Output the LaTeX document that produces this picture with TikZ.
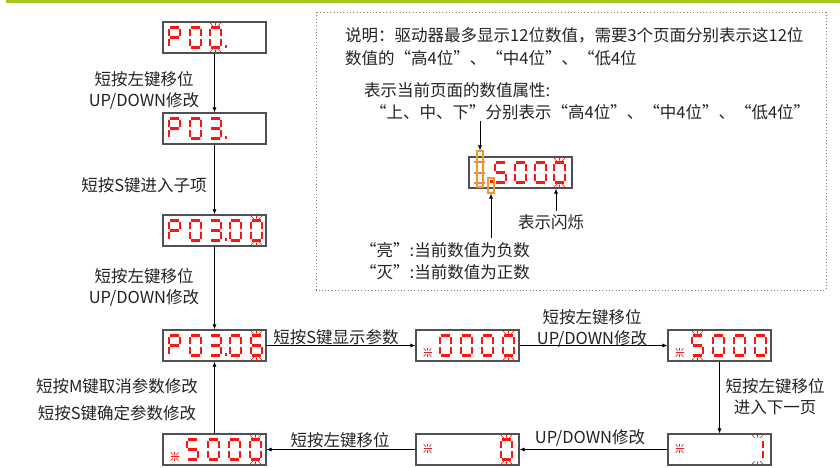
\documentclass[tikz,border=0pt]{standalone}
\usepackage{fontspec}
\setmainfont{Noto Sans CJK SC}
\usetikzlibrary{arrows.meta}
\definecolor{segc}{HTML}{FF1414}
\definecolor{grn}{HTML}{A5C81E}
\definecolor{txt}{HTML}{222222}
\definecolor{org}{HTML}{F39A1E}
\definecolor{pinkseg}{HTML}{F07A7A}
\definecolor{boxc}{HTML}{505050}
\tikzset{
  segl/.style={draw=segc, line width=2.5pt},
  ray/.style={draw=segc, line width=0.65pt},
  dbox/.style={draw=boxc, line width=1.1pt, minimum width=103pt, minimum height=31pt, inner sep=0pt, fill=white},
  lbl/.style={text=txt, font=\fontsize{16.5}{21}\selectfont, align=center, inner sep=0pt},
  arr/.style={draw=black, line width=0.7pt, -{Latex[length=5pt,width=4pt]}},
  obox/.style={draw=org, line width=1.1pt, inner sep=0pt},
}
\newcommand\sga{\draw[segl] (1.3,0)--(9.7,0);}
\newcommand\sgb{\draw[segl] (11,1.3)--(11,8.7);}
\newcommand\sgc{\draw[segl] (11,11.3)--(11,18.7);}
\newcommand\sgd{\draw[segl] (1.3,20)--(9.7,20);}
\newcommand\sge{\draw[segl] (0,11.3)--(0,18.7);}
\newcommand\sgf{\draw[segl] (0,1.3)--(0,8.7);}
\newcommand\sgg{\draw[segl] (1.3,10)--(9.7,10);}
\newcommand\dgt[2]{\begin{scope}[shift={(#1,5.5)}]\foreach \s in {#2}{\csname sg\s\endcsname}\end{scope}}
\newcommand\blk[1]{\begin{scope}[shift={(#1,5.5)}]
  \draw[ray] (5.5,-2)--(5.5,-5) (2.6,-1.8)--(0,-4.6) (8.4,-1.8)--(11,-4.6);
  \draw[ray] (5.5,22)--(5.5,25) (2.6,21.8)--(0,24.6) (8.4,21.8)--(11,24.6);
  \end{scope}}
\newcommand\sgn[2]{\begin{scope}[shift={(#1,#2)}]
  \draw[segc, line width=1.6pt] (-4,0)--(4,0);
  \draw[ray] (0,-1.8)--(0,-4.5) (-1.8,-1.8)--(-3.8,-4.2) (1.8,-1.8)--(3.8,-4.2);
  \draw[ray] (0,1.8)--(0,4.5) (-1.8,1.8)--(-3.8,4.2) (1.8,1.8)--(3.8,4.2);
  \end{scope}}
\newcommand\dpt[1]{\fill[segc] (#1,25.8) rectangle ++(2.8,-2.8);}
\begin{document}
\begin{tikzpicture}[x=1pt,y=-1pt]
\useasboundingbox (0,0) rectangle (840,467);
\draw[grn, line width=2.6pt] (6,1.3) -- (840,1.3);
\draw[gray, line width=0.9pt, dash pattern=on 0.9pt off 2.4pt] (316,12) rectangle (826,290);

% displays
\node[dbox] (d1) at (214.5,37.5) {};
\begin{scope}[shift={(163,22)}]
 \dgt{6}{a,b,f,g,e}\dgt{27}{a,b,c,d,e,f}\dgt{47}{a,b,c,d,e,f}\blk{47}\dpt{61.5}
\end{scope}
\node[dbox] (d2) at (214.5,128.5) {};
\begin{scope}[shift={(163,113)}]
 \dgt{6}{a,b,f,g,e}\dgt{27}{a,b,c,d,e,f}\dgt{47}{a,b,c,d,g}\dpt{61.5}
\end{scope}
\node[dbox] (d3) at (214.5,230.5) {};
\begin{scope}[shift={(163,215)}]
 \dgt{6}{a,b,f,g,e}\dgt{27}{a,b,c,d,e,f}\dgt{47}{a,b,c,d,g}\dpt{61.5}\dgt{67}{a,b,c,d,e,f}\dgt{88}{a,b,c,d,e,f}\blk{88}
\end{scope}
\node[dbox] (d4) at (214.5,345.5) {};
\begin{scope}[shift={(163,330)}]
 \dgt{6}{a,b,f,g,e}\dgt{27}{a,b,c,d,e,f}\dgt{47}{a,b,c,d,g}\dpt{61.5}\dgt{67}{a,b,c,d,e,f}\dgt{88}{a,f,g,e,c,d}\blk{88}
\end{scope}
\node[dbox] (d5) at (467.5,345.5) {};
\begin{scope}[shift={(416,330)}]
 \sgn{11.5}{22.5}\dgt{24}{a,b,c,d,e,f}\dgt{45}{a,b,c,d,e,f}\dgt{66}{a,b,c,d,e,f}\dgt{87}{a,b,c,d,e,f}\blk{87}
\end{scope}
\node[dbox] (d6) at (719.5,345.5) {};
\begin{scope}[shift={(668,330)}]
 \sgn{11.5}{22.5}\dgt{24}{a,f,g,c,d}\blk{24}\dgt{45}{a,b,c,d,e,f}\dgt{66}{a,b,c,d,e,f}\dgt{87}{a,b,c,d,e,f}
\end{scope}
\node[dbox] (d7) at (214.5,449.5) {};
\begin{scope}[shift={(163,434)}]
 \sgn{11.5}{22.5}\dgt{24}{a,f,g,c,d}\dgt{45}{a,b,c,d,e,f}\dgt{66}{a,b,c,d,e,f}\dgt{87}{a,b,c,d,e,f}\blk{87}
\end{scope}
\node[dbox] (d8) at (467.5,449.5) {};
\begin{scope}[shift={(416,434)}]
 \sgn{11.5}{14.5}\dgt{85}{a,b,c,d,e,f}\blk{85}
\end{scope}
\node[dbox] (d9) at (719.5,449.5) {};
\begin{scope}[shift={(668,434)}]
 \sgn{11.5}{14.5}\dgt{84}{b,c}\blk{84}
\end{scope}

% connectors between displays
\draw[arr] (d1.south) -- (d2.north);
\draw[arr] (d2.south) -- (d3.north);
\draw[arr] (d3.south) -- (d4.north);
\draw[arr] (d4.east) -- (d5.west);
\draw[arr] (d5.east) -- (d6.west);
\draw[arr] (d6.south) -- (d9.north);
\draw[arr] (d9.west) -- (d8.east);
\draw[arr] (d8.west) -- (d7.east);
\draw[arr] (d7.north) -- (d4.south);

% labels
\node[lbl] (l1) at (144,90) {短按左键移位\\UP/DOWN修改};
\node[lbl] (l2) at (144,185) {短按S键进入子项};
\node[lbl] (l3) at (144,287) {短按左键移位\\UP/DOWN修改};
\node[lbl] (l4) at (336,337) {短按S键显示参数};
\node[lbl] (l5) at (592,328) {短按左键移位\\UP/DOWN修改};
\node[lbl] (l6) at (775,397) {短按左键移位\\进入下一页};
\node[lbl] (l7) at (590,438) {UP/DOWN修改};
\node[lbl] (l8) at (340,440) {短按左键移位};
\node[lbl] (l9) at (117,386) {短按M键取消参数修改};
\node[lbl] (l10) at (117,413) {短按S键确定参数修改};

% explanation box
\node[lbl, anchor=west] (t1) at (345,35) {说明：驱动器最多显示12位数值，需要3个页面分别表示这12位};
\node[lbl, anchor=west] (t2) at (345,58) {数值的“高4位”、“中4位”、“低4位};
\node[lbl, anchor=west] (t3) at (364,90) {表示当前页面的数值属性:};
\node[lbl, anchor=west] (t4) at (370,112) {“上、中、下”分别表示“高4位”、“中4位”、“低4位”};
\node[dbox] (dm) at (520.5,172.5) {};
\begin{scope}[shift={(469,157)}]
 \draw[pinkseg, line width=2.2pt] (5,5)--(16,5) (5,16)--(16,16) (5,26)--(16,26);
 \fill[segc] (20.5,22.5) rectangle (23.5,25.5);
 \dgt{26}{a,f,g,c,d}\dgt{46}{a,b,c,d,e,f}\dgt{66}{a,b,c,d,e,f}\dgt{85}{a,b,c,d,e,f}\blk{85}
\end{scope}
\node[obox, minimum width=6pt, minimum height=36pt] (ob1) at (480,169) {};
\node[obox, minimum width=6pt, minimum height=15pt] (ob2) at (491,185.5) {};
\coordinate (c1) at (480,121);
\draw[arr] (c1) -- (ob1.north);
\node[lbl] (t5) at (551,222) {表示闪烁};
\coordinate (c3) at (556,211);
\draw[arr] (c3) -- (c3 |- dm.south);
\node[lbl, anchor=west] (t6) at (360,250) {“亮”:当前数值为负数};
\node[lbl, anchor=west] (t7) at (360,272) {“灭”:当前数值为正数};
\coordinate (c2) at (491,238);
\draw[arr] (c2) -- (ob2.south);
\end{tikzpicture}
\end{document}
